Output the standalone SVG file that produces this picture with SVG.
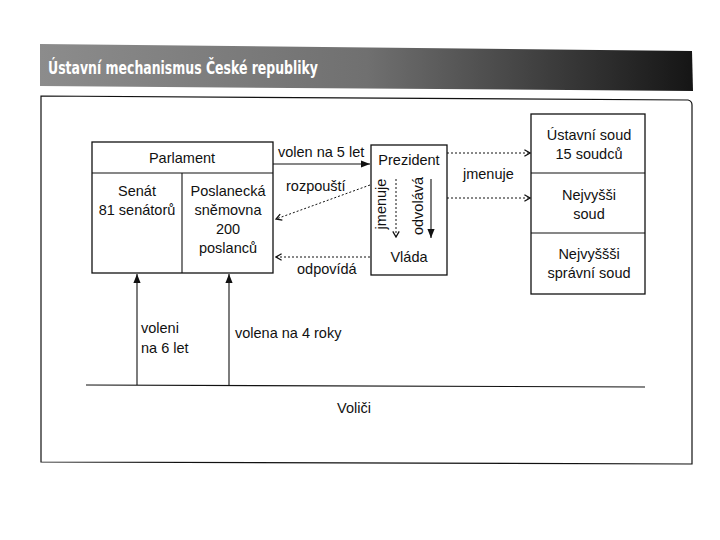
<svg xmlns="http://www.w3.org/2000/svg" width="720" height="540" viewBox="0 0 720 540">
<defs>
<linearGradient id="bg" x1="0" y1="0" x2="1" y2="0">
<stop offset="0" stop-color="#8c8c8c"/>
<stop offset="0.5" stop-color="#707070"/>
<stop offset="1" stop-color="#151515"/>
</linearGradient>
<marker id="fill" viewBox="0 0 10 10" refX="10" refY="5" markerWidth="9" markerHeight="9" markerUnits="userSpaceOnUse" orient="auto">
<path d="M0,1 L10,5 L0,9 Z" fill="#111"/>
</marker>
<marker id="open" viewBox="0 0 10 10" refX="9" refY="5" markerWidth="8" markerHeight="8" markerUnits="userSpaceOnUse" orient="auto">
<path d="M2,1 L9,5 L2,9" fill="none" stroke="#111" stroke-width="1.6"/>
</marker>
</defs>
<style>
text{font-family:"Liberation Sans",Arial,sans-serif;font-size:14.5px;fill:#111}
.c{text-anchor:middle}
.box{fill:#fff;stroke:#111;stroke-width:1.3}
.ln{stroke:#111;stroke-width:1.1;fill:none}
.dot{stroke:#111;stroke-width:1;fill:none;stroke-dasharray:2 2}
</style>
<rect width="720" height="540" fill="#fff"/>
<g id="title">
<polygon points="40,44 692,51 693,91 40,86" fill="url(#bg)"/>
<text x="48" y="74" style="font-family:'DejaVu Sans Condensed','DejaVu Sans',sans-serif;font-weight:bold;font-size:17px;fill:#fff" textLength="270" lengthAdjust="spacingAndGlyphs">Ústavní mechanismus České republiky</text>
</g>
<g id="frame">
<path d="M41,96 L688,100 Q692,101 692,105 L692,464 L41,462 Z" fill="none" stroke="#111" stroke-width="1.2"/>
</g>
<g id="parlament">
<rect class="box" x="92" y="142" width="181" height="131"/>
<line class="ln" x1="92" y1="173" x2="273" y2="173"/>
<line class="ln" x1="182" y1="173" x2="182" y2="273" stroke-width="0.8"/>
<text class="c" x="182" y="163">Parlament</text>
<text class="c" x="137" y="196">Senát</text>
<text class="c" x="137" y="215">81 senátorů</text>
<text class="c" x="228" y="196">Poslanecká</text>
<text class="c" x="228" y="215">sněmovna</text>
<text class="c" x="228" y="234">200</text>
<text class="c" x="228" y="253">poslanců</text>
</g>
<g id="prezident">
<rect class="box" x="371" y="145" width="76" height="130"/>
<text class="c" x="409" y="165">Prezident</text>
<text class="c" x="409" y="262">Vláda</text>
<text class="c" transform="translate(386,204) rotate(-90)">jmenuje</text>
<text class="c" transform="translate(423,206) rotate(-90)">odvolává</text>
</g>
<g id="soudy">
<rect class="box" x="531" y="114" width="114" height="180"/>
<line class="ln" x1="531" y1="173" x2="645" y2="173"/>
<line class="ln" x1="531" y1="233" x2="645" y2="233"/>
<text class="c" x="589" y="140">Ústavní soud</text>
<text class="c" x="589" y="159">15 soudců</text>
<text class="c" x="589" y="200">Nejvyšši</text>
<text class="c" x="589" y="219">soud</text>
<text class="c" x="589" y="259">Nejvyššši</text>
<text class="c" x="589" y="278">správní soud</text>
</g>
<g id="volici">
<text class="c" x="354" y="413">Voliči</text>
</g>
<g id="connectors">
<line class="ln" x1="273" y1="164" x2="370" y2="164" marker-end="url(#fill)"/>
<line class="dot" x1="370" y1="185" x2="276" y2="219" marker-end="url(#open)"/>
<line class="dot" x1="370" y1="257" x2="276" y2="257" marker-end="url(#open)"/>
<line class="dot" x1="396" y1="179" x2="396" y2="237" marker-end="url(#open)"/>
<line class="ln" x1="431" y1="179" x2="431" y2="238" marker-end="url(#fill)"/>
<line class="dot" x1="447" y1="153" x2="530" y2="153" marker-end="url(#open)"/>
<line class="dot" x1="447" y1="198" x2="530" y2="198" marker-end="url(#open)"/>
<line class="ln" x1="137" y1="385" x2="137" y2="274" marker-end="url(#fill)"/>
<line class="ln" x1="229" y1="385" x2="229" y2="274" marker-end="url(#fill)" stroke-width="0.8"/>
<line class="ln" x1="86" y1="385" x2="645" y2="387"/>
<text x="278" y="157">volen na 5 let</text>
<text x="286" y="191">rozpouští</text>
<text x="297" y="274">odpovídá</text>
<text x="463" y="179">jmenuje</text>
<text x="141" y="333">voleni</text>
<text x="141" y="353">na 6 let</text>
<text x="235" y="338">volena na 4 roky</text>
</g>
</svg>
